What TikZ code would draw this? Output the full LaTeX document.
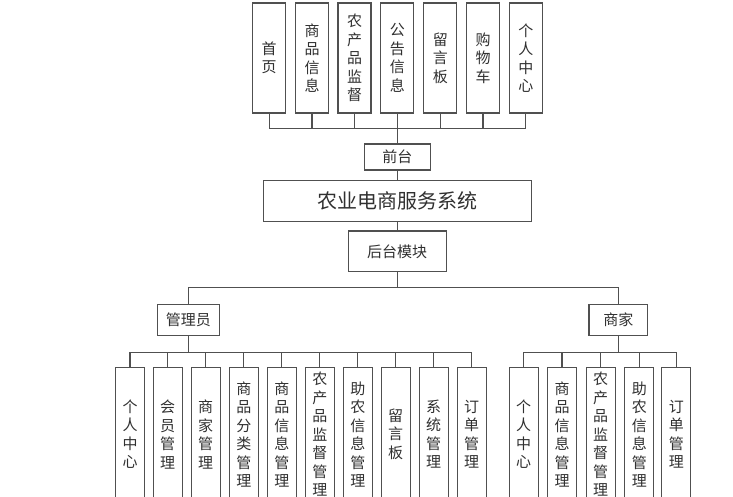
\documentclass[tikz,border=0pt]{standalone}
\usepackage{fontspec}
\setmainfont{Noto Sans CJK SC}
\definecolor{ln}{HTML}{505050}
\definecolor{tx}{HTML}{303030}
\tikzset{
  box/.style={draw=ln, line width=1.1pt, fill=white, text=tx, align=center, inner sep=0pt,
    font=\fontsize{15}{18.5}\selectfont},
  tall/.style={box, minimum width=33pt, minimum height=110pt},
  leaf/.style={box, minimum width=29pt, minimum height=134pt},
  conn/.style={draw=ln, line width=1.1pt}
}
\begin{document}
\begin{tikzpicture}[x=1pt,y=-1pt]
\useasboundingbox (0,0) rectangle (733,497);
\clip (0,0) rectangle (733,497);
% top row
\node[tall] (t1) at (269.2,58) {首\\页};
\node[tall] (t2) at (312,58) {商\\品\\信\\息};
\node[tall] (t3) at (354.5,58) {农\\产\\品\\监\\督};
\node[tall] (t4) at (397.3,58) {公\\告\\信\\息};
\node[tall] (t5) at (440.3,58) {留\\言\\板};
\node[tall] (t6) at (483,58) {购\\物\\车};
\node[tall] (t7) at (525.8,58) {个\\人\\中\\心};
\node[box, minimum width=66pt, minimum height=26pt] (qt) at (397.3,157) {前台};
\node[box, minimum width=268.4pt, minimum height=41pt, font=\fontsize{20}{22}\selectfont] (sys) at (397.5,201.2) {农业电商服务系统};
\node[box, minimum width=97.7pt, minimum height=40.7pt] (ht) at (397.2,251.3) {后台模块};
\node[box, minimum width=62pt, minimum height=30.7pt] (gly) at (188.3,319.7) {管理员};
\node[box, minimum width=58.7pt, minimum height=30.7pt] (sj) at (618.3,319.7) {商家};
% admin leaves
\node[leaf] (a1) at (130,434.3) {个\\人\\中\\心};
\node[leaf] (a2) at (167.7,434.3) {会\\员\\管\\理};
\node[leaf] (a3) at (205.7,434.3) {商\\家\\管\\理};
\node[leaf] (a4) at (243.8,434.3) {商\\品\\分\\类\\管\\理};
\node[leaf] (a5) at (281.8,434.3) {商\\品\\信\\息\\管\\理};
\node[leaf] (a6) at (319.8,434.3) {农\\产\\品\\监\\督\\管\\理};
\node[leaf] (a7) at (357.8,434.3) {助\\农\\信\\息\\管\\理};
\node[leaf] (a8) at (395.7,434.3) {留\\言\\板};
\node[leaf] (a9) at (433.7,434.3) {系\\统\\管\\理};
\node[leaf] (a10) at (471.7,434.3) {订\\单\\管\\理};
% merchant leaves
\node[leaf] (m1) at (523.7,434.3) {个\\人\\中\\心};
\node[leaf] (m2) at (562,434.3) {商\\品\\信\\息\\管\\理};
\node[leaf] (m3) at (600.7,434.3) {农\\产\\品\\监\\督\\管\\理};
\node[leaf] (m4) at (639.3,434.3) {助\\农\\信\\息\\管\\理};
\node[leaf] (m5) at (676.3,434.3) {订\\单\\管\\理};
% connectors
\foreach \i in {1,...,7} {\draw[conn] (t\i.south) -- ++(0,15.3) -| (qt.north);}
\draw[conn] (qt.south) -- (qt.south |- sys.north);
\draw[conn] (ht.north |- sys.south) -- (ht.north);
\draw[conn] (ht.south) -- ++(0,15.3) -| (gly.north);
\draw[conn] (ht.south) -- ++(0,15.3) -| (sj.north);
\foreach \i in {1,...,10} {\draw[conn] (gly.south) -- ++(0,16.7) -| (a\i.north);}
\foreach \i in {1,...,5} {\draw[conn] (sj.south) -- ++(0,16.7) -| (m\i.north);}
\end{tikzpicture}
\end{document}
